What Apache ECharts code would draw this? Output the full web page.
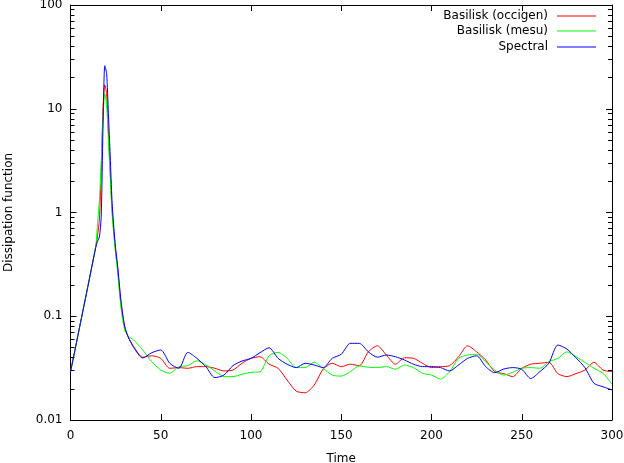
<!DOCTYPE html>
<html>
<head>
<meta charset="utf-8">
<script src="https://cdn.jsdelivr.net/npm/echarts@6/dist/echarts.min.js"></script>
<style>
html,body{margin:0;padding:0;background:#fff;}
#c{width:624px;height:463px;}
</style>
</head>
<body>
<div id="c"></div>
<script>
const times = [0,5,10,14,15,16,17,18,19,20,21,22,23,24,25,26,28,30,32,35,40,
  45,50,55,60,65,70,75,80,85,90,95,100,105,110,115,120,125,130,135,140,
  145,150,155,160,165,170,175,180,185,190,195,200,205,210,215,220,225,230,235,240,
  245,250,255,260,265,270,275,280,285,290,295,300];

const occigen = [0.029,0.0779,0.209,0.47,0.6,0.85,2.5,10,17,14,6,2.5,1.1,0.65,0.42,0.3,0.13,0.08,0.063,0.051,0.0403,
  0.0416,0.0393,0.0315,0.0320,0.0315,0.0327,0.0327,0.0315,0.0297,0.0303,
  0.0352,0.0393,0.0407,0.0345,0.0315,0.0243,0.0190,0.0183,0.0217,0.0310,
  0.0352,0.0327,0.0345,0.0334,0.0454,0.0519,0.0423,0.0345,0.0398,0.0393,
  0.0352,0.0320,0.0327,0.0334,0.0407,0.0519,0.0454,0.0379,0.0292,0.0280,
  0.0262,0.0315,0.0345,0.0352,0.0360,0.0280,0.0262,0.0280,0.0303,0.0360,
  0.0303,0.0292];

const mesu = [0.029,0.0779,0.209,0.48,0.8,1.3,3,8,14,11,5,2.2,1.0,0.6,0.4,0.28,0.12,0.0737,0.064,0.059,0.0473,
  0.0364,0.0303,0.0282,0.0327,0.0334,0.0372,0.0339,0.0297,0.0262,0.0262,
  0.0276,0.0288,0.0292,0.0416,0.0449,0.0393,0.0320,0.0320,0.0360,0.0315,
  0.0271,0.0265,0.0292,0.0332,0.0322,0.0320,0.0327,0.0308,0.0339,0.0320,
  0.0282,0.0271,0.0248,0.0292,0.0393,0.0423,0.0430,0.0364,0.0303,0.0271,
  0.0288,0.0315,0.0320,0.0315,0.0364,0.0393,0.0454,0.0407,0.0360,0.0315,
  0.0282,0.0221];

const spectral = [0.029,0.0779,0.209,0.46,0.53,0.58,0.9,6.5,26,22,9,3.5,1.3,0.72,0.45,0.32,0.14,0.08,0.063,0.05,0.0396,
  0.0445,0.0473,0.0352,0.0315,0.0449,0.0393,0.0327,0.0256,0.0271,0.0334,
  0.0370,0.0393,0.0445,0.0497,0.0393,0.0345,0.0320,0.0352,0.0339,0.0320,
  0.0393,0.0430,0.0548,0.0548,0.0454,0.0403,0.0423,0.0407,0.0379,0.0345,
  0.0327,0.0327,0.0320,0.0297,0.0339,0.0393,0.0416,0.0327,0.0286,0.0310,
  0.0320,0.0308,0.0251,0.0292,0.0352,0.0528,0.0483,0.0398,0.0320,0.0226,
  0.0209,0.0195];

const seriesNames = ['Basilisk (occigen)','Basilisk (mesu)','Spectral'];
const seriesColors = ['#ff0000','#00ff00','#0000ff'];

const minorTicks = [0.02,0.03,0.04,0.05,0.06,0.07,0.08,0.09,
  0.2,0.3,0.4,0.5,0.6,0.7,0.8,0.9,
  2,3,4,5,6,7,8,9,
  20,30,40,50,60,70,80,90];
const xMin = 0, xMax = 300, minorLen = 2.2;

const FONT = 'DejaVu Sans';
const chart = echarts.init(document.getElementById('c'));

function pairs(arr){ return times.map((t,i)=>[t, arr[i]]); }

const minorTickLines = [];
minorTicks.forEach(v => {
  minorTickLines.push([{coord:[xMin, v]}, {coord:[xMin + minorLen, v]}]);
  minorTickLines.push([{coord:[xMax, v]}, {coord:[xMax - minorLen, v]}]);
});

const axisLine = {show:true, onZero:false, lineStyle:{color:'#000', width:1}};
const lineSeries = [occigen, mesu, spectral].map((arr, i) => {
  const s = {
    name: seriesNames[i],
    type: 'line',
    data: pairs(arr),
    showSymbol: false,
    symbol: 'none',
    smooth: 0.25,
    lineStyle: {color: seriesColors[i], width: 1},
    itemStyle: {color: seriesColors[i]},
    animation: false,
    z: 3 + i
  };
  if (i === 2) {
    s.markLine = {
      silent: true,
      animation: false,
      symbol: ['none', 'none'],
      label: {show: false},
      lineStyle: {color: '#000', width: 1, type: 'solid'},
      emphasis: {disabled: true},
      data: minorTickLines
    };
  }
  return s;
});

const legendTops = [10, 25, 41];
const legends = seriesNames.map((n, i) => ({
  data: [n],
  right: 28,
  top: legendTops[i],
  orient: 'vertical',
  align: 'right',
  padding: 0,
  icon: 'rect',
  itemWidth: 39,
  itemHeight: 1,
  selectedMode: false,
  textStyle: {fontFamily: FONT, fontSize: 12, color: '#000', padding: [0, 4, 0, 0]}
}));

chart.setOption({
  animation: false,
  backgroundColor: '#fff',
  grid: {left: 70.5, right: 12, top: 5, bottom: 43, containLabel: false, outerBoundsMode: 'none'},
  legend: legends,
  xAxis: [
    {type:'value', min:0, max:300, interval:50, position:'bottom',
     name:'Time', nameLocation:'middle', nameGap:33,
     nameTextStyle:{fontFamily:FONT, fontSize:12, color:'#000'},
     axisLine: axisLine,
     axisTick:{show:true, inside:true, length:6, lineStyle:{color:'#000'}},
     axisLabel:{fontFamily:FONT, fontSize:12, color:'#000', margin:10},
     splitLine:{show:false}},
    {type:'value', min:0, max:300, interval:50, position:'top',
     axisLine: axisLine,
     axisTick:{show:true, inside:true, length:6, lineStyle:{color:'#000'}},
     axisLabel:{show:false}, splitLine:{show:false}}
  ],
  yAxis: [
    {type:'log', logBase:10, min:0.01, max:100, position:'left',
     name:'Dissipation function', nameLocation:'middle', nameGap:56,
     nameTextStyle:{fontFamily:FONT, fontSize:12, color:'#000'},
     axisLine: axisLine,
     axisTick:{show:true, inside:true, length:6, lineStyle:{color:'#000'}},
     axisLabel:{fontFamily:FONT, fontSize:12, color:'#000', margin:8,
       formatter: v => String(+v.toPrecision(6))},
     splitLine:{show:false}},
    {type:'log', logBase:10, min:0.01, max:100, position:'right',
     axisLine: axisLine,
     axisTick:{show:true, inside:true, length:6, lineStyle:{color:'#000'}},
     axisLabel:{show:false}, splitLine:{show:false}}
  ],
  series: lineSeries
});
</script>
</body>
</html>
